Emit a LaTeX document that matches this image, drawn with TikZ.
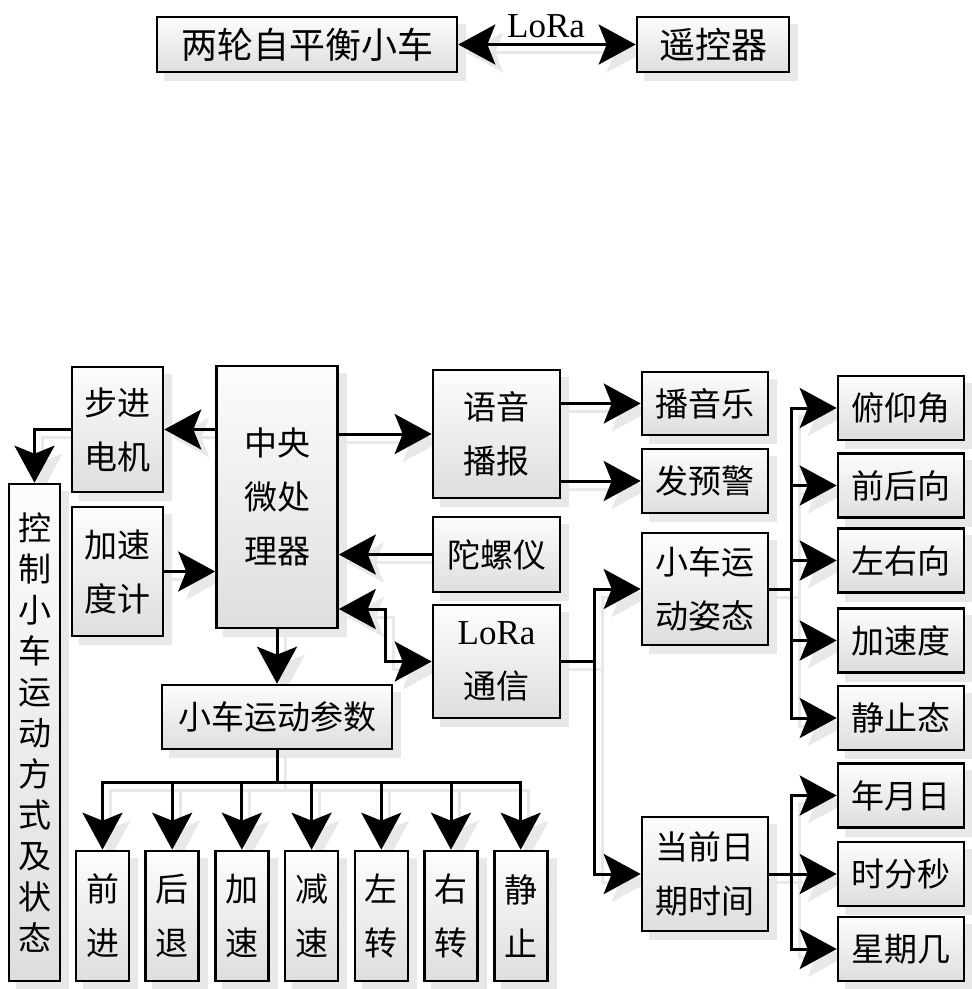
\documentclass[tikz,border=0pt]{standalone}
\usepackage{fontspec}
\setmainfont{Liberation Serif}
\newfontfamily\cjk{Noto Sans CJK SC}
\usetikzlibrary{arrows.meta}
\pgfdeclarelayer{bg}
\pgfsetlayers{bg,main}
\tikzset{
  box/.style={draw=black, line width=2.6pt, top color=black!1, bottom color=black!13,
    inner sep=0pt, align=center, font=\cjk\fontsize{33}{54}\selectfont},
  conn/.style={line width=3pt, ->},
  conn2/.style={line width=3pt, <->},
  lat/.style={font=\fontsize{35}{40}\selectfont},
}
\newcommand\myconns{%
  \draw[conn2] (car.east) -- (rc.west);
  \draw[conn] (cpu.west |- motor.east) -- (motor.east);
  \draw[conn] (motor.west) -| (ctrl.north);
  \draw[conn] (cpu.east |- voice.west) -- (voice.west);
  \draw[conn] (acc.east) -- (cpu.west |- acc.east);
  \draw[conn] (gyro.west) -- (cpu.east |- gyro.west);
  \draw[conn2] (cpu.east |- lk) -- (lk) |- (lora.west);
  \draw[conn] (cpu.south) -- (param.north);
  \foreach \b in {b1,b2,b3,b4,b5,b6,b7}{\draw[conn] (param.south) -- (bus) -| (\b.north);}
  \draw[conn] (voice.east |- music.west) -- (music.west);
  \draw[conn] (voice.east |- warn.west) -- (warn.west);
  \draw[conn] (lora.east) -- ++(33,0) |- (pose.west);
  \draw[conn] (lora.east) -- ++(33,0) |- (time.west);
  \foreach \r in {r1,r2,r3,r4,r5}{\draw[conn] (pose.east) -- ++(22,0) |- (\r.west);}
  \foreach \r in {r6,r7,r8}{\draw[conn] (time.east) -- ++(22,0) |- (\r.west);}
}
\begin{document}
\begin{tikzpicture}[x=1pt,y=-1pt,>={Stealth[length=37pt,width=40pt,inset=8pt]}]
\useasboundingbox (0,0) rectangle (972,989);
% top
\node[box, minimum width=300pt, minimum height=55pt, font=\cjk\fontsize{36}{40}\selectfont] (car) at (307,44.5) {两轮自平衡小车};
\node[box, minimum width=152pt, minimum height=55pt, font=\cjk\fontsize{36}{40}\selectfont] (rc) at (713,44.5) {遥控器};
\node[lat] (lbl) at (546,26) {LoRa};
% main
\node[box, minimum width=91pt, minimum height=125pt] (motor) at (117.5,429.5) {步进\\电机};
\node[box, minimum width=121pt, minimum height=262pt] (cpu) at (277,497) {中央\\微处\\理器};
\node[box, minimum width=127pt, minimum height=128pt] (voice) at (496.5,434) {语音\\播报};
\node[box, minimum width=126pt, minimum height=63pt] (music) at (705,403.5) {播音乐};
\node[box, minimum width=126pt, minimum height=64pt] (warn) at (705,481) {发预警};
\node[box, minimum width=91pt, minimum height=129pt] (acc) at (117.5,571.5) {加速\\度计};
\node[box, minimum width=127pt, minimum height=75pt] (gyro) at (496.5,554.5) {陀螺仪};
\node[box, minimum width=127pt, minimum height=113pt] (lora) at (496.5,661.5) {{\fontsize{35}{54}\selectfont\rmfamily LoRa}\\通信};
\node[box, minimum width=126pt, minimum height=112pt] (pose) at (705,589) {小车运\\动姿态};
\node[box, minimum width=126pt, minimum height=114pt] (time) at (705,874) {当前日\\期时间};
\node[box, minimum width=51pt, minimum height=497pt, font=\cjk\fontsize{33}{41}\selectfont] (ctrl) at (34.5,732.5) {控\\制\\小\\车\\运\\动\\方\\式\\及\\状\\态};
\node[box, minimum width=230pt, minimum height=64pt] (param) at (277,717) {小车运动参数};
\foreach \t [count=\i from 1] in {前\\进,后\\退,加\\速,减\\速,左\\转,右\\转,静\\止}{
  \node[box, minimum width=53pt, minimum height=130pt] (b\i) at ({102.5+69.7*(\i-1)},916) {\t};
}
\foreach \t/\y [count=\i from 1] in {俯仰角/408,前后向/485.5,左右向/560.5,加速度/640.5,静止态/718,年月日/795.5,时分秒/874,星期几/949}{
  \node[box, minimum width=126pt, minimum height=64pt] (r\i) at (901,\y) {\t};
}
\coordinate (lk) at (385,609);
\coordinate (bus) at (277,782);
\begin{pgfonlayer}{bg}
  \foreach \n in {car,rc,motor,cpu,voice,music,warn,acc,gyro,lora,pose,time,ctrl,param,b1,b2,b3,b4,b5,b6,b7,r1,r2,r3,r4,r5,r6,r7,r8}{
    \fill[black!9] ([shift={(8pt,-8pt)}]\n.south west) rectangle ([shift={(8pt,-8pt)}]\n.north east);
  }
  \begin{scope}[transform canvas={shift={(8pt,-8pt)}}, color=black!9]
    \myconns
  \end{scope}
  \begin{scope}[color=black]
    \myconns
  \end{scope}
\end{pgfonlayer}
\end{tikzpicture}
\end{document}
